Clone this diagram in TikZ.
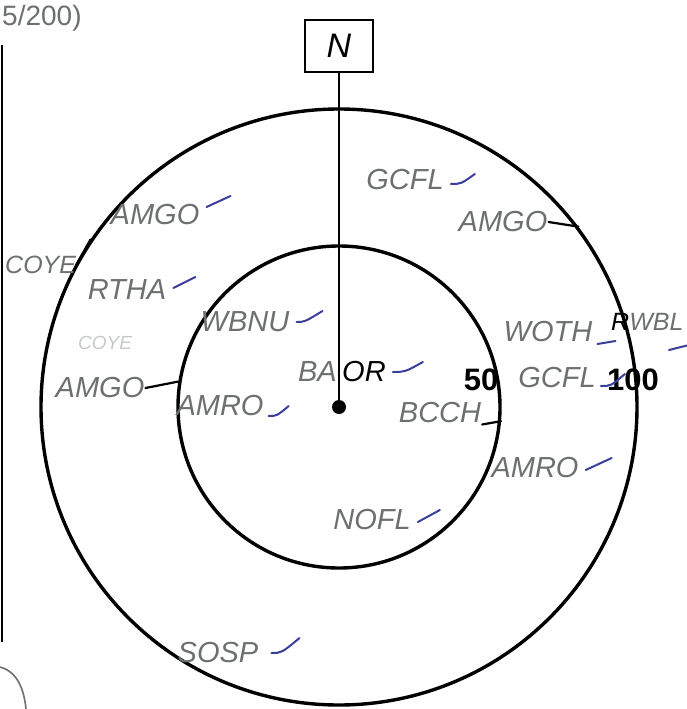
\documentclass[tikz,border=0pt]{standalone}
\usepackage{fontspec}
\setsansfont{Liberation Sans}
\usetikzlibrary{positioning}
\definecolor{pencil}{HTML}{6C716E}
\definecolor{faint}{HTML}{C6CAC7}
\definecolor{ink}{HTML}{3B3F9C}
\tikzset{ring/.style={draw,circle,line width=3.4pt,inner sep=0pt},spp/.style={text=pencil,font=\sffamily\itshape\fontsize{29}{29}\selectfont,inner sep=1pt},chk/.style={draw=ink,line width=2pt,line cap=round},tie/.style={draw=black,line width=2.2pt,line cap=round},dist/.style={font=\sffamily\bfseries\fontsize{31}{31}\selectfont,inner sep=0pt}}

\begin{document}
\begin{tikzpicture}[x=1pt,y=-1pt]
\useasboundingbox (0,0) rectangle (686,709);
% page edge and margin scribbles
\draw[line width=2.6pt] (2,45) -- (2,642);
\node[text=pencil,font=\sffamily\fontsize{28}{28}\selectfont,anchor=base west,inner sep=0pt] (note) at (2,26) {5/200)};
\draw[pencil,line width=1.6pt] (0,667) .. controls (18,672) and (24,690) .. (26,709);
% count circles
\node[ring,minimum size=596pt] (outer) at (339,407) {};
\node[ring,minimum size=322pt] (inner) at (339,407) {};
\node[circle,fill,minimum size=14pt,inner sep=0pt] (ctr) at (339,407) {};
\node[draw,line width=2.2pt,minimum width=68pt,minimum height=52pt,font=\sffamily\itshape\fontsize{34}{34}\selectfont] (north) at (339,46) {N};
\draw[line width=2.8pt] (north.south) -- (ctr.center);
\node[dist] (d50) at (481,380) {50};
\node[dist] (d100) at (633,380) {100};
% species, inner ring
\node[spp] (wbnu) at (245,322) {WBNU};
\node[spp] (amro1) at (220,406) {AMRO};
\node[spp,anchor=east] (baor) at (338,372) {BA};
\node[spp,text=black,anchor=west] (baor2) at (341,372) {OR};
\node[spp] (bcch) at (440,413) {BCCH};
\node[spp] (nofl) at (372,520) {NOFL};
% species, outer ring
\node[spp] (gcfl1) at (405,180) {GCFL};
\node[spp] (amgo1) at (155,215) {AMGO};
\node[spp] (rtha) at (127,290) {RTHA};
\node[spp,text=faint,font=\sffamily\itshape\fontsize{19}{19}\selectfont] (coye2) at (105,343) {COYE};
\node[spp] (amgo2) at (100,388) {AMGO};
\node[spp] (amgo3) at (503,222) {AMGO};
\node[spp] (woth) at (548,332) {WOTH};
\node[spp] (gcfl2) at (557,378) {GCFL};
\node[spp] (amro2) at (535,468) {AMRO};
\node[spp] (sosp) at (218,653) {SOSP};
% beyond 100
\node[spp,font=\sffamily\itshape\fontsize{25}{25}\selectfont,anchor=west,inner sep=0pt] (coye) at (5,265) {COYE};
\node[spp,font=\sffamily\itshape\fontsize{25}{25}\selectfont,anchor=west,inner sep=0pt] (rwbl) at (611,322) {{\color{black}R}WBL};
% ties to the rings
\draw[tie] (coye.east) -- (outer.146);
\draw[tie] (amgo2.east) -- (inner.171);
\draw[tie] (amgo3.east) -- (outer.37);
\draw[tie] (bcch.south east) -- (inner.-5);
% ticks
\draw[chk] ([shift={(6,4)}]gcfl1.east) .. controls +(10,0) .. +(24,-10);
\draw[chk] ([shift={(6,-8)}]amgo1.east) -- +(24,-11);
\draw[chk] ([shift={(6,-2)}]rtha.east) -- +(22,-11);
\draw[chk] ([shift={(6,0)}]wbnu.east) .. controls +(8,0) .. +(26,-11);
\draw[chk] ([shift={(6,0)}]baor2.east) .. controls +(12,0) .. +(30,-10);
\draw[chk] ([shift={(4,10)}]amro1.east) .. controls +(8,0) .. +(20,-10);
\draw[chk] ([shift={(4,12)}]woth.east) -- +(18,-3);
\draw[chk] ([shift={(4,8)}]gcfl2.east) .. controls +(10,0) .. +(24,-12);
\draw[chk] ([shift={(58,28)}]rwbl.west) -- +(20,-5);
\draw[chk] ([shift={(6,2)}]amro2.east) -- +(26,-12);
\draw[chk] ([shift={(6,2)}]nofl.east) -- +(22,-12);
\draw[chk] ([shift={(12,0)}]sosp.east) .. controls +(10,0) .. +(28,-15);
\end{tikzpicture}
\end{document}
